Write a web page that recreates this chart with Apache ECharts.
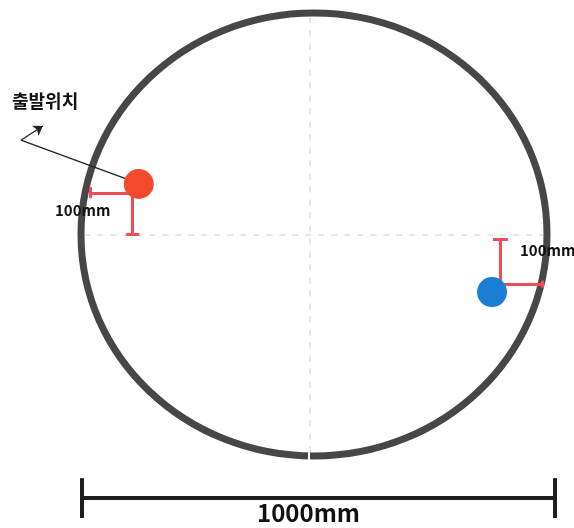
<!DOCTYPE html>
<html>
<head>
<meta charset="utf-8">
<script src="https://cdn.jsdelivr.net/npm/echarts@6/dist/echarts.min.js"></script>
<style>
    html, body { margin: 0; padding: 0; background: #fff; }
    #main { width: 574px; height: 528px; }
</style>
</head>
<body>
<div id="main"></div>
<script type="text/javascript">
    // 좌표 단위: mm (원의 중심 = 0,0)
    var circle = [0, 0, 500];   // 중심 x, 중심 y, 반지름
    var crossLines = [
        [[-10, 490], [-10, -504]],
        [[-493, 0], [498, 0]]
    ];
    var bottomGap = [[-11, -482], [-11, -516]];
    var startPoint = [[-376, 114]];   // 출발위치 (빨강)
    var endPoint = [[382, -130]];     // 파랑
    var leftMeasure = [
        [[-481, 94], [-391, 94]],
        [[-481, 82], [-481, 107]],
        [[-391, 94], [-391, 0]],
        [[-403, 0], [-375, 0]]
    ];
    var rightMeasure = [
        [[399, -10], [399, -112]],
        [[384, -10], [416, -10]],
        [[399, -112], [489, -112]],
        [[489, -104], [489, -120]]
    ];
    var leader = [[-378, 116], [-629, 213]];
    var arrowTip = [[-629, 213], [-582, 245]];
    var scaleBar = [
        [[-498, -595], [517, -595]],
        [[-498, -550], [-498, -640]],
        [[517, -550], [517, -640]]
    ];
    var labels = ['출발위치', '100mm', '100mm', '1000mm'];

    var chart = echarts.init(document.getElementById('main'));

    function toLines(list) {
        return list.map(function (c) { return {coords: c}; });
    }

    var font = '"Noto Sans CJK KR", "Noto Sans", sans-serif';

    chart.setOption({
        animation: false,
        backgroundColor: '#ffffff',
        grid: {left: 81, top: 13, width: 466, height: 443},
        xAxis: {type: 'value', min: -500, max: 500, show: false},
        yAxis: {type: 'value', min: -500, max: 500, show: false},
        graphic: [
            {type: 'text', z: 100, left: 12, top: 92, style: {text: labels[0], font: 'bold 18px ' + font, fill: '#111'}},
            {type: 'text', z: 100, left: 55, top: 203, style: {text: labels[1], font: 'bold 15px ' + font, fill: '#111'}},
            {type: 'text', z: 100, left: 520, top: 243, style: {text: labels[2], font: 'bold 15px ' + font, fill: '#111'}},
            {type: 'text', z: 100, left: 257, top: 501, style: {text: labels[3], font: 'bold 24px ' + font, fill: '#111'}}
        ],
        series: [
            {
                // 점선 십자
                type: 'lines',
                coordinateSystem: 'cartesian2d',
                clip: false,
                z: 1,
                lineStyle: {color: '#e6e6e6', width: 2, type: [6, 7], opacity: 1},
                data: toLines(crossLines)
            },
            {
                // 원
                type: 'custom',
                coordinateSystem: 'cartesian2d',
                z: 2,
                data: [circle],
                renderItem: function (params, api) {
                    var c = api.coord([api.value(0), api.value(1)]);
                    var s = api.size([api.value(2), api.value(2)]);
                    return {
                        type: 'ellipse',
                        shape: {cx: c[0], cy: c[1], rx: s[0], ry: s[1]},
                        style: {fill: 'none', stroke: '#474747', lineWidth: 7}
                    };
                }
            },
            {
                type: 'lines',
                coordinateSystem: 'cartesian2d',
                clip: false,
                z: 3,
                lineStyle: {color: '#ffffff', width: 2, opacity: 1},
                data: toLines([bottomGap])
            },
            {
                // 지시선
                type: 'lines',
                coordinateSystem: 'cartesian2d',
                clip: false,
                z: 4,
                lineStyle: {color: '#222', width: 1.2, opacity: 1},
                data: toLines([leader])
            },
            {
                type: 'lines',
                coordinateSystem: 'cartesian2d',
                clip: false,
                z: 4,
                symbol: ['none', 'arrow'],
                symbolSize: 9,
                lineStyle: {color: '#222', width: 1.2, opacity: 1},
                data: toLines([arrowTip])
            },
            {
                // 100mm 치수선
                type: 'lines',
                coordinateSystem: 'cartesian2d',
                clip: false,
                z: 5,
                lineStyle: {color: '#f04b57', width: 3, opacity: 1},
                data: toLines(leftMeasure.concat(rightMeasure))
            },
            {
                // 1000mm 치수선
                type: 'lines',
                coordinateSystem: 'cartesian2d',
                clip: false,
                z: 5,
                lineStyle: {color: '#1e1e1e', width: 4, opacity: 1},
                data: toLines(scaleBar)
            },
            {
                type: 'scatter',
                clip: false,
                z: 6,
                symbolSize: 30,
                itemStyle: {color: '#f3492d', opacity: 1},
                data: startPoint
            },
            {
                type: 'scatter',
                clip: false,
                z: 6,
                symbolSize: 30,
                itemStyle: {color: '#1b7fd4', opacity: 1},
                data: endPoint
            }
        ]
    });
</script>
</body>
</html>
